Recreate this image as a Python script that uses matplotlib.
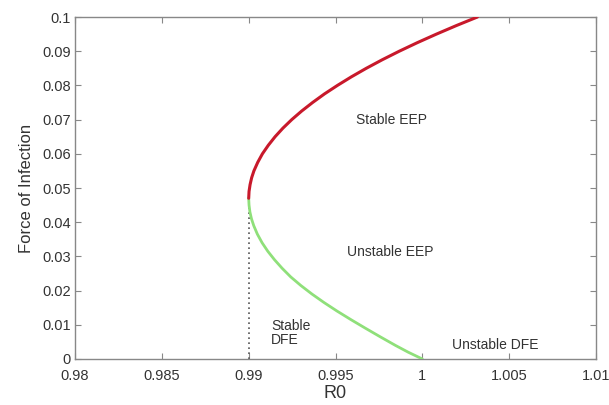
import matplotlib
matplotlib.use("Agg")
import matplotlib.pyplot as plt

plt.rcParams['font.family'] = ['Liberation Sans', 'DejaVu Sans']

# Upper (stable) endemic branch: force of infection vs R0
stable_foi = [0.0470, 0.0490, 0.0510, 0.0530, 0.0550, 0.0575, 0.0600,
              0.0625, 0.0650, 0.0675, 0.0700, 0.0725, 0.0750, 0.0775,
              0.0800, 0.0825, 0.0850, 0.0875, 0.0900, 0.0925, 0.0950,
              0.0975, 0.1000]
stable_r0 = [0.99000, 0.99002, 0.99008, 0.99017, 0.99030, 0.99052, 0.99079,
             0.99113, 0.99152, 0.99197, 0.99248, 0.99305, 0.99368, 0.99436,
             0.99511, 0.99591, 0.99677, 0.99769, 0.99867, 0.99971, 1.00081,
             1.00196, 1.00317]

# Lower (unstable) endemic branch
unstable_foi = [0.0470, 0.0450, 0.0430, 0.0410, 0.0390, 0.0365, 0.0340,
                0.0315, 0.0290, 0.0265, 0.0240, 0.0215, 0.0190, 0.0165,
                0.0140, 0.0115, 0.0090, 0.0065, 0.0040, 0.0020, 0.0000]
unstable_r0 = [0.99000, 0.99002, 0.99007, 0.99016, 0.99029, 0.99050, 0.99077,
               0.99110, 0.99149, 0.99193, 0.99242, 0.99300, 0.99364, 0.99434,
               0.99509, 0.99589, 0.99672, 0.99757, 0.99844, 0.99918, 1.00000]

# Turning point of the backward bifurcation
turn_r0 = 0.990
turn_foi = 0.047

x_ticks = [0.98, 0.985, 0.99, 0.995, 1.0, 1.005, 1.01]
x_tick_labels = ['0.98', '0.985', '0.99', '0.995', '1', '1.005', '1.01']
y_ticks = [0, 0.01, 0.02, 0.03, 0.04, 0.05, 0.06, 0.07, 0.08, 0.09, 0.1]
y_tick_labels = ['0', '0.01', '0.02', '0.03', '0.04', '0.05', '0.06',
                 '0.07', '0.08', '0.09', '0.1']

fig = plt.figure(figsize=(6.09, 4.05), dpi=100)
ax = fig.add_axes([0.1232, 0.1136, 0.8555, 0.8444])

ax.plot([turn_r0, turn_r0], [0, turn_foi], color='#555555', lw=1.2,
        linestyle=(0, (1, 2)), zorder=2)
ax.plot(unstable_r0, unstable_foi, color='#8fe07a', lw=2.0,
        solid_capstyle='round', solid_joinstyle='round', zorder=3)
ax.plot(stable_r0, stable_foi, color='#c8192b', lw=2.2,
        solid_capstyle='round', solid_joinstyle='round', zorder=4)

ax.set_xlim(0.98, 1.01)
ax.set_ylim(0, 0.1)
ax.set_xticks(x_ticks)
ax.set_xticklabels(x_tick_labels)
ax.set_yticks(y_ticks)
ax.set_yticklabels(y_tick_labels)

ax.tick_params(direction='in', length=4, width=0.8, color='#888888',
               labelcolor='#333333', labelsize=10.5, top=True, right=True)
ax.tick_params(axis='x', pad=7)
ax.tick_params(axis='y', pad=3)
for sp in ax.spines.values():
    sp.set_color('#888888')
    sp.set_linewidth(1.0)

ax.set_xlabel('R0', fontsize=13, color='#333333', labelpad=2)
ax.set_ylabel('Force of Infection', fontsize=12, color='#333333', labelpad=6)

txt = dict(fontsize=10, color='#333333')
ax.text(0.99823, 0.0699, 'Stable EEP', ha='center', va='center', **txt)
ax.text(0.99817, 0.0313, 'Unstable EEP', ha='center', va='center', **txt)
ax.text(0.99130, 0.0076, 'Stable\nDFE', ha='left', va='center',
        linespacing=1.0, **txt)
ax.text(1.00420, 0.0041, 'Unstable DFE', ha='center', va='center', **txt)

fig.savefig('out.png', dpi=100)
